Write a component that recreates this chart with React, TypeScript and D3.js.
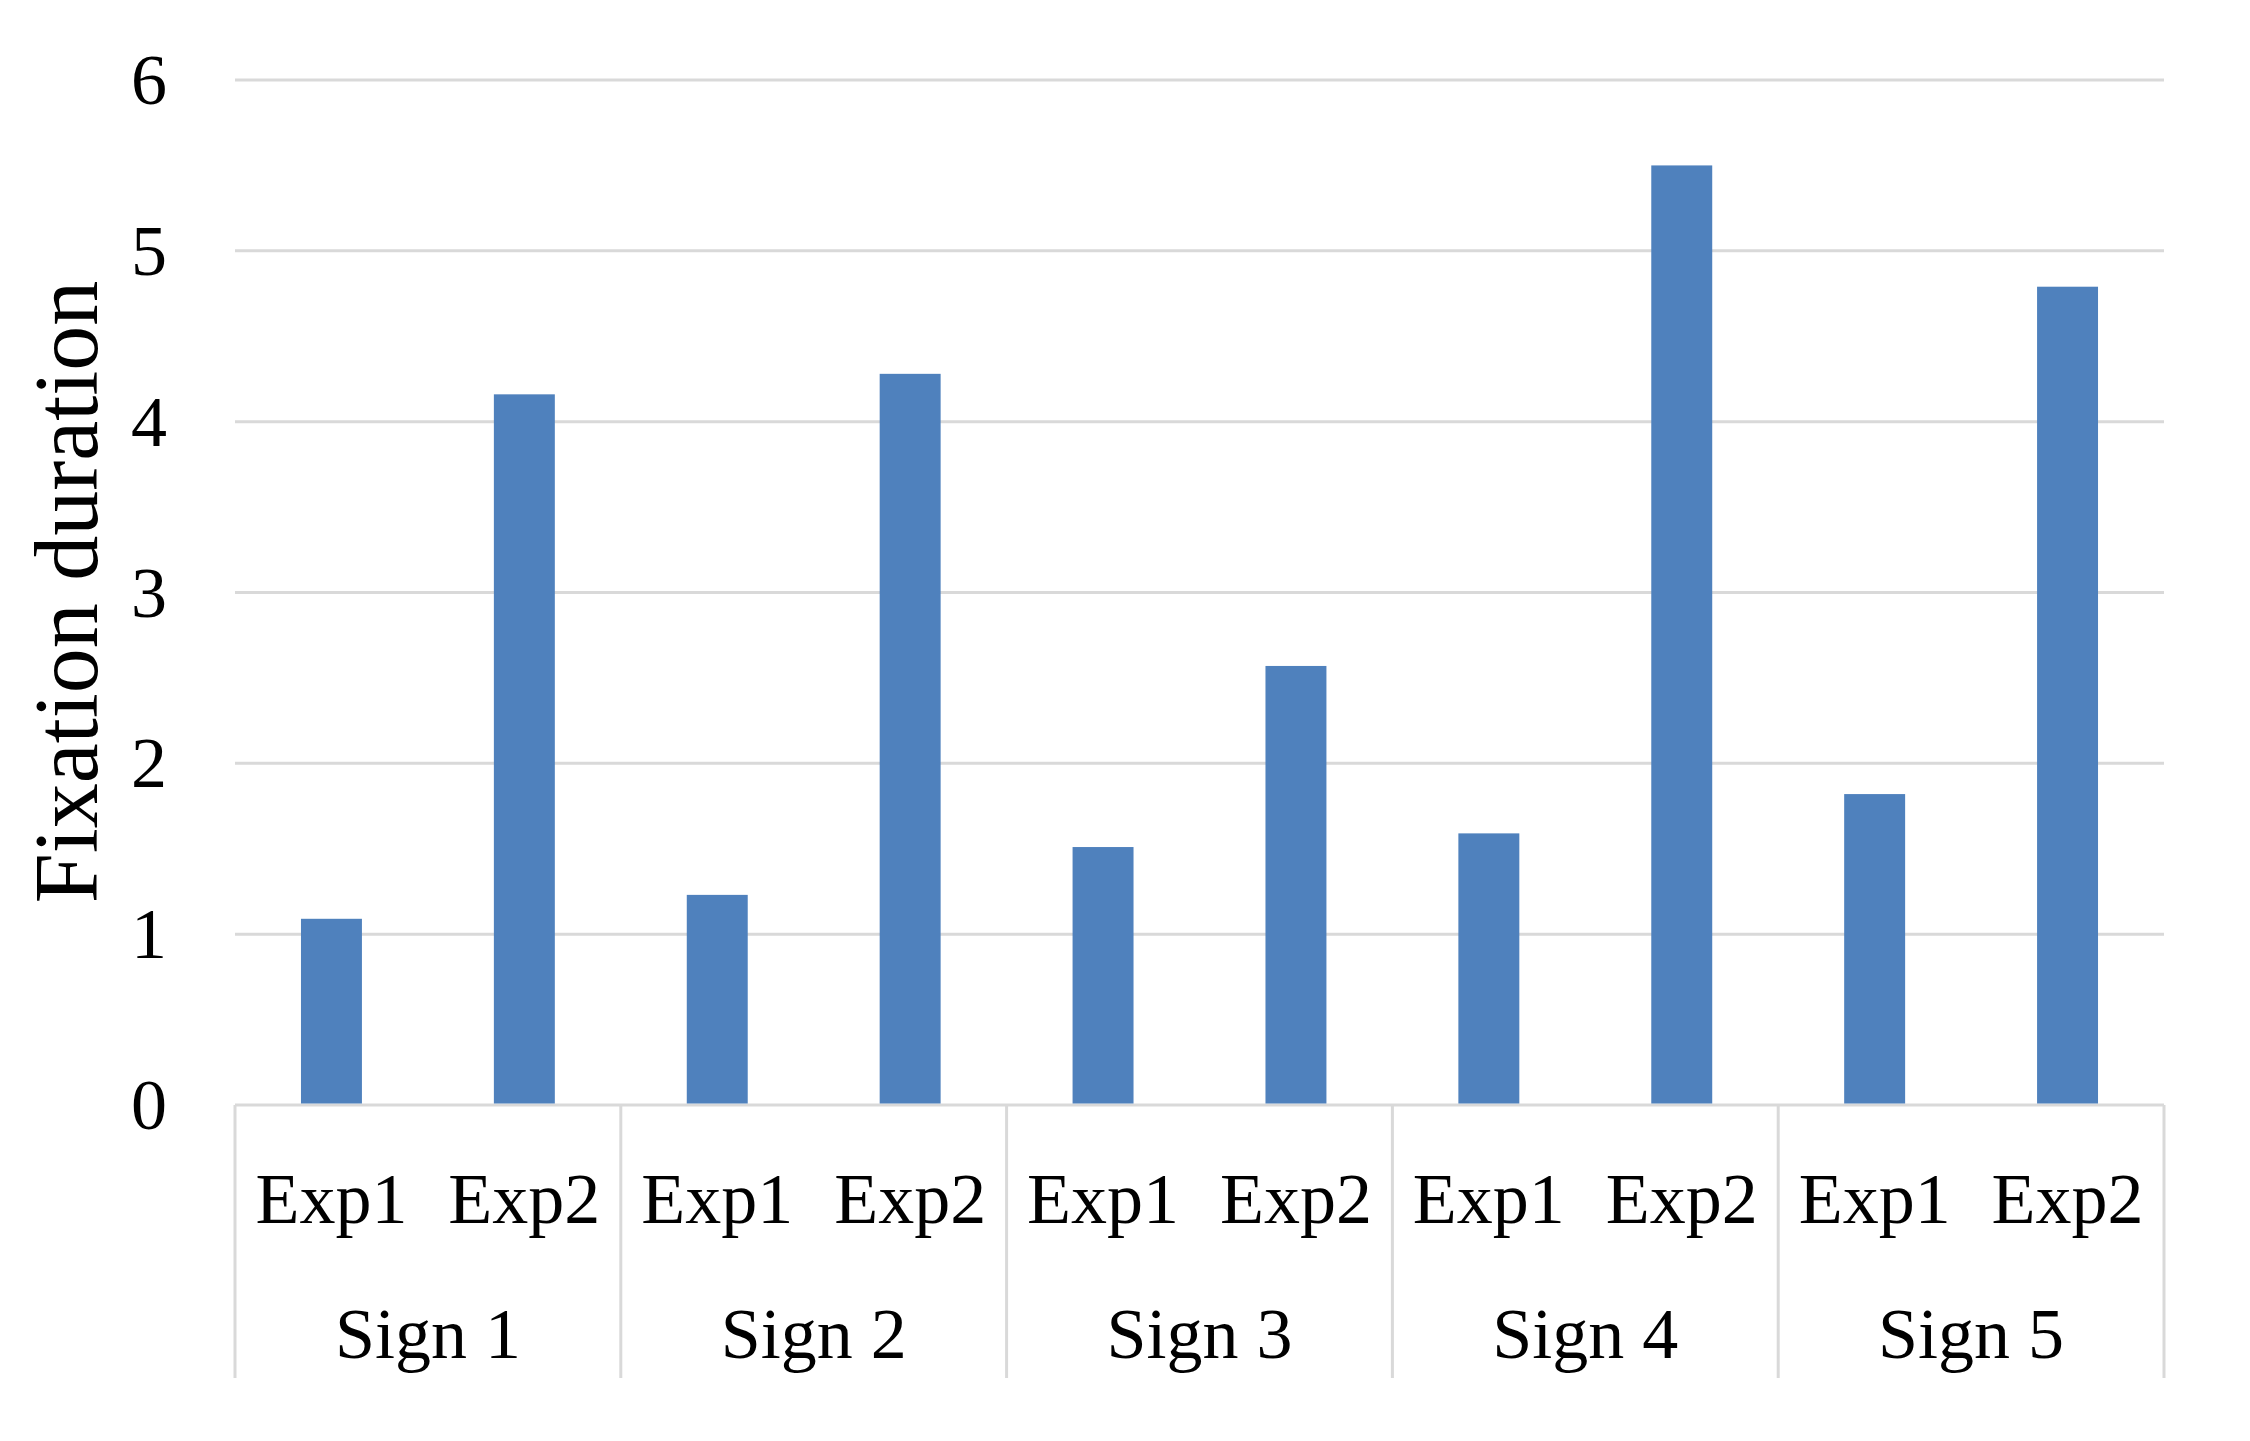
import React from "react";
import * as d3 from "d3";

const signs = ["Sign 1", "Sign 2", "Sign 3", "Sign 4", "Sign 5"];
const experiments = ["Exp1", "Exp2"];
const exp1Values = [1.09, 1.23, 1.51, 1.59, 1.82];
const exp2Values = [4.16, 4.28, 2.57, 5.5, 4.79];
const yTicks = [0, 1, 2, 3, 4, 5, 6];
const yTitle = "Fixation duration";

const W = 2250;
const H = 1441;
const FONT = "'Liberation Serif', 'Times New Roman', serif";

export default function App() {
  const left = 235;
  const right = 2164;
  const top = 80;
  const bottom = 1105;
  const catBottom = 1378;

  const x0 = d3.scaleBand<string>().domain(signs).range([left, right]).padding(0);
  const x1 = d3
    .scaleBand<string>()
    .domain(experiments)
    .range([0, x0.bandwidth()])
    .paddingInner(0.684)
    .paddingOuter(0.342);
  const y = d3.scaleLinear().domain([0, 6]).range([bottom, top]);

  const data = signs.flatMap((s, i) => [
    { sign: s, exp: "Exp1", value: exp1Values[i] },
    { sign: s, exp: "Exp2", value: exp2Values[i] },
  ]);

  const slot = x0.bandwidth() / experiments.length;
  const grid = "#d9d9d9";

  return (
    <svg
      width={W}
      height={H}
      style={{ position: "absolute", left: 0, top: 0, background: "#fff" }}
    >
      <rect x={0} y={0} width={W} height={H} fill="#fff" />
      {yTicks.map((t) => (
        <line
          key={"g" + t}
          x1={left}
          x2={right}
          y1={y(t)}
          y2={y(t)}
          stroke={grid}
          strokeWidth={3}
        />
      ))}
      {yTicks.map((t) => (
        <text
          key={"t" + t}
          x={167}
          y={y(t) + 24}
          textAnchor="end"
          fontFamily={FONT}
          fontSize={72}
          fill="#000"
        >
          {t}
        </text>
      ))}
      {signs.concat(["end"]).map((s, i) => {
        const xx = i < signs.length ? (x0(s) as number) : right;
        return (
          <line
            key={"sep" + i}
            x1={xx}
            x2={xx}
            y1={bottom}
            y2={catBottom}
            stroke={grid}
            strokeWidth={3}
          />
        );
      })}
      {data.map((d, i) => (
        <rect
          key={"b" + i}
          x={(x0(d.sign) as number) + (x1(d.exp) as number)}
          y={y(d.value)}
          width={x1.bandwidth()}
          height={y(0) - y(d.value) - 1.5}
          fill="#4F81BD"
        />
      ))}
      {data.map((d, i) => (
        <text
          key={"e" + i}
          x={(x0(d.sign) as number) + experiments.indexOf(d.exp) * slot + slot / 2}
          y={1223}
          textAnchor="middle"
          fontFamily={FONT}
          fontSize={72}
          fill="#000"
        >
          {d.exp}
        </text>
      ))}
      {signs.map((s) => (
        <text
          key={"s" + s}
          x={(x0(s) as number) + x0.bandwidth() / 2}
          y={1358}
          textAnchor="middle"
          fontFamily={FONT}
          fontSize={72}
          fill="#000"
        >
          {s}
        </text>
      ))}
      <text
        transform={`translate(97, ${(280 + 904) / 2}) rotate(-90)`}
        textAnchor="middle"
        fontFamily={FONT}
        fontSize={90}
        fill="#000"
      >
        {yTitle}
      </text>
    </svg>
  );
}
